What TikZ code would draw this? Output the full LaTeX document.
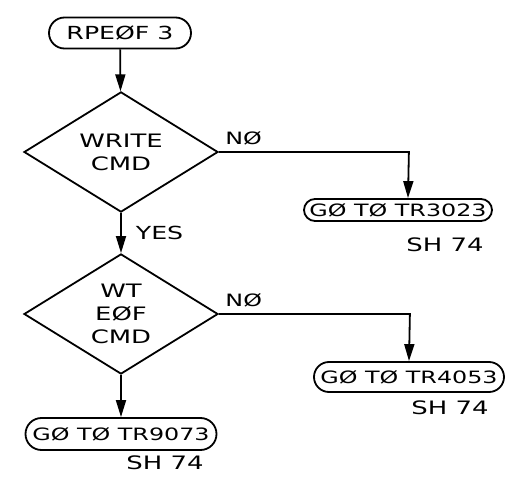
\documentclass[tikz,border=0pt]{standalone}
\usepackage{fontspec}
\setmainfont{DejaVu Sans}[FakeStretch=1.4]
\usetikzlibrary{arrows.meta, shapes.geometric, shapes.misc}

\begin{document}
\begin{tikzpicture}[
  x=1pt, y=-1pt,
  term/.style={draw, rounded rectangle, line width=1.8pt, inner sep=1pt, font=\fontsize{17}{20}\selectfont},
  decision/.style={draw, diamond, line width=1.8pt, minimum width=194pt, minimum height=112pt, inner sep=0pt, align=center, font=\fontsize{18.5}{23}\selectfont},
  lbl/.style={font=\fontsize{17}{20}\selectfont, inner sep=0pt},
  arr/.style={-{Triangle[length=17pt, width=10pt]}, line width=1.8pt}
]
\useasboundingbox (0,0) rectangle (523,487);

\node[term, minimum width=144pt, minimum height=31pt, font=\fontsize{18}{20}\selectfont] (start) at (120,33) {RPEØF 3};
\node[decision] (write) at (121,152) {WRITE\\CMD};
\node[term, minimum width=190pt, minimum height=22pt] (tr3023) at (398,210) {GØ TØ TR3023};
\node[lbl, font=\fontsize{18.5}{20}\selectfont] (sh1) at (445,245) {SH 74};
\node[decision] (wteof) at (121,314) {WT\\EØF\\CMD};
\node[term, minimum width=192pt, minimum height=30pt] (tr4053) at (409,377) {GØ TØ TR4053};
\node[lbl, font=\fontsize{18.5}{20}\selectfont] (sh2) at (450,408) {SH 74};
\node[term, minimum width=193pt, minimum height=32pt] (tr9073) at (121,434) {GØ TØ TR9073};
\node[lbl, font=\fontsize{18.5}{20}\selectfont] (sh3) at (165,463) {SH 74};

\draw[arr] (start) -- (write);
\draw[arr] (write) -- node[lbl, right=14pt, font=\fontsize{18}{20}\selectfont] (yes) {YES} (wteof);
\draw[arr] (write.east) -- node[lbl, above, yshift=6pt, pos=0.13] (no1) {NØ} ++(190,0) -- ([xshift=10pt]tr3023.north);
\draw[arr] (wteof.east) -- node[lbl, above, yshift=6pt, pos=0.13] (no2) {NØ} ++(191,0) -- (tr4053.north);
\draw[arr] (wteof) -- (tr9073);
\end{tikzpicture}
\end{document}
